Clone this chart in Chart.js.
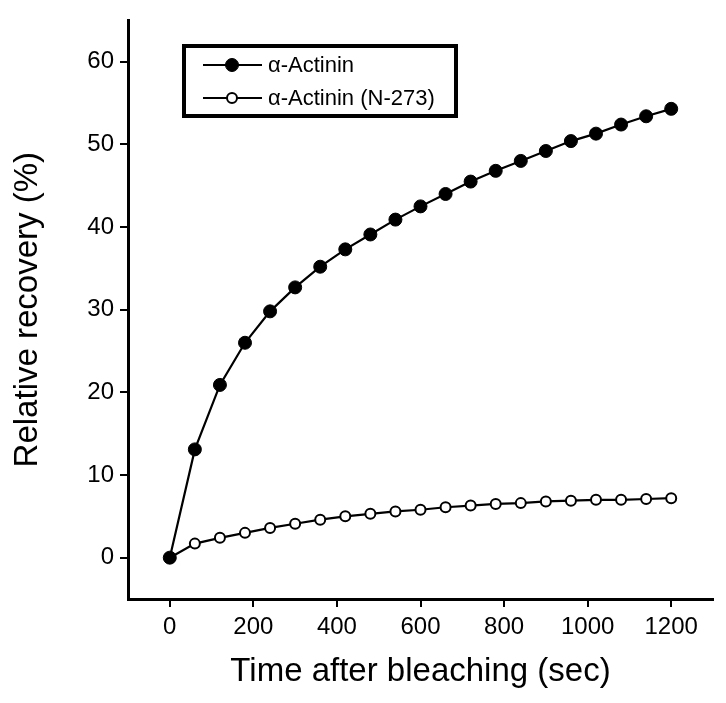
<!DOCTYPE html>
<html>
<head>
<meta charset="utf-8">
<script src="https://cdn.jsdelivr.net/npm/chart.js@4/dist/chart.umd.min.js"></script>
<style>
  html, body { margin: 0; padding: 0; background: #fff; }
  #wrap { width: 726px; height: 703px; }
</style>
</head>
<body>
<div id="wrap"><canvas id="c" width="726" height="703"></canvas></div>
<script>
// ---- data ----
const times = [0, 60, 120, 180, 240, 300, 360, 420, 480, 540, 600, 660, 720, 780, 840, 900, 960, 1020, 1080, 1140, 1200];
const actinin = [0, 13.1, 20.9, 26.0, 29.8, 32.7, 35.2, 37.3, 39.1, 40.9, 42.5, 44.0, 45.5, 46.8, 48.0, 49.2, 50.4, 51.3, 52.4, 53.4, 54.3];
const actininN273 = [0, 1.7, 2.4, 3.0, 3.6, 4.1, 4.6, 5.0, 5.3, 5.6, 5.8, 6.1, 6.3, 6.5, 6.6, 6.8, 6.9, 7.0, 7.0, 7.1, 7.2];
const seriesLabels = ['\u03b1-Actinin', '\u03b1-Actinin (N-273)'];
const xTicks = [0, 200, 400, 600, 800, 1000, 1200];
const yTicks = [0, 10, 20, 30, 40, 50, 60];
const xTitle = 'Time after bleaching (sec)';
const yTitle = 'Relative recovery (%)';

const FONT = '"Liberation Sans", Arial, Helvetica, sans-serif';

const toPts = (ys) => ys.map((y, i) => ({ x: times[i], y }));

const legendPlugin = {
  id: 'boxLegend',
  afterDraw(chart) {
    const ctx = chart.ctx;
    ctx.save();
    ctx.strokeStyle = '#000';
    ctx.lineWidth = 4;
    ctx.strokeRect(184, 46, 272, 70);
    const rowsY = [65, 98];
    chart.data.datasets.forEach((ds, i) => {
      const y = rowsY[i];
      ctx.beginPath();
      ctx.lineWidth = 2;
      ctx.strokeStyle = '#000';
      ctx.moveTo(203, y);
      ctx.lineTo(262, y);
      ctx.stroke();
      ctx.beginPath();
      ctx.arc(232, y, ds.pointRadius, 0, Math.PI * 2);
      ctx.fillStyle = ds.pointBackgroundColor;
      ctx.fill();
      ctx.lineWidth = ds.pointBorderWidth;
      ctx.strokeStyle = ds.pointBorderColor;
      ctx.stroke();
      ctx.fillStyle = '#000';
      ctx.font = '22px ' + FONT;
      ctx.textBaseline = 'middle';
      ctx.textAlign = 'left';
      ctx.fillText(ds.label, 268, y + 1);
    });
    ctx.restore();
  }
};

new Chart(document.getElementById('c'), {
  type: 'line',
  data: {
    datasets: [
      {
        label: seriesLabels[0],
        data: toPts(actinin),
        borderColor: '#000',
        borderWidth: 2.2,
        pointRadius: 6.5,
        pointBackgroundColor: '#000',
        pointBorderColor: '#000',
        pointBorderWidth: 1,
        tension: 0
      },
      {
        label: seriesLabels[1],
        data: toPts(actininN273),
        borderColor: '#000',
        borderWidth: 2.2,
        pointRadius: 5,
        pointBackgroundColor: '#fff',
        pointBorderColor: '#000',
        pointBorderWidth: 2,
        tension: 0
      }
    ]
  },
  options: {
    responsive: false,
    animation: false,
    devicePixelRatio: 1,
    layout: { padding: { top: 10, right: 13, left: 0, bottom: 0 } },
    plugins: {
      legend: { display: false },
      tooltip: { enabled: false }
    },
    scales: {
      x: {
        type: 'linear',
        min: -100,
        max: 1300,
        afterBuildTicks: (s) => { s.ticks = xTicks.map(v => ({ value: v })); },
        afterFit: (s) => { s.height = 104; },
        border: { display: true, color: '#000', width: 3 },
        grid: { drawOnChartArea: false, drawTicks: true, tickLength: 8, tickColor: '#000', lineWidth: 2 },
        ticks: { color: '#000', font: { family: FONT, size: 24 }, padding: 6, maxRotation: 0,
                 callback: (v) => String(v) },
        title: { display: true, text: xTitle, color: '#000', font: { family: FONT, size: 33 }, padding: { top: 0, bottom: 11 } }
      },
      y: {
        type: 'linear',
        min: -5,
        max: 65,
        afterBuildTicks: (s) => { s.ticks = yTicks.map(v => ({ value: v })); },
        afterFit: (s) => { s.width = 128; },
        border: { display: true, color: '#000', width: 3 },
        grid: { drawOnChartArea: false, drawTicks: true, tickLength: 8, tickColor: '#000', lineWidth: 2 },
        ticks: { color: '#000', font: { family: FONT, size: 24 }, padding: 6,
                 callback: (v) => String(v) },
        title: { display: true, text: yTitle, color: '#000', font: { family: FONT, size: 33 }, padding: { top: 8, bottom: 0 } }
      }
    }
  },
  plugins: [legendPlugin]
});
</script>
</body>
</html>
